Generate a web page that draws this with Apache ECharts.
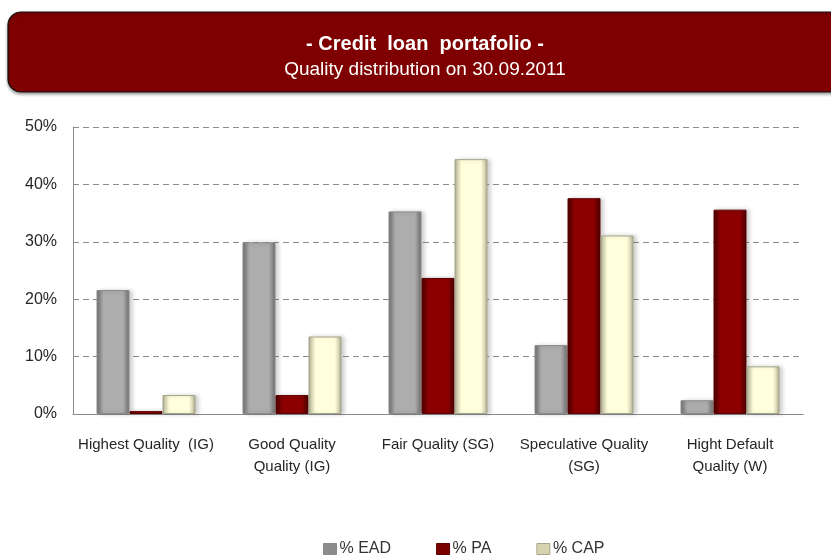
<!DOCTYPE html>
<html>
<head>
<meta charset="utf-8">
<script src="https://cdn.jsdelivr.net/npm/echarts@6/dist/echarts.min.js"></script>
<style>
  html, body { margin: 0; padding: 0; background: #fff; }
  #chart { width: 831px; height: 555px; }
</style>
</head>
<body>
<div id="chart"></div>
<script>
// Quality buckets of the credit loan portfolio
const categories = [
  'Highest Quality  (IG)',
  'Good Quality\nQuality (IG)',
  'Fair Quality (SG)',
  'Speculative Quality\n(SG)',
  'Hight Default\nQuality (W)'
];
const seriesNames = ['% EAD', '% PA', '% CAP'];
const eadValues = [21.6, 29.9, 35.3, 12.0, 2.4];
const paValues  = [0.5, 3.3, 23.7, 37.6, 35.6];
const capValues = [3.3, 13.5, 44.4, 31.1, 8.3];
const yTicks = [0, 10, 20, 30, 40, 50];

const FONT = "'Liberation Sans', 'DejaVu Sans', sans-serif";

// Bevelled look: dark edges, lighter body
function bevel(edge, mid, body) {
  return new echarts.graphic.LinearGradient(0, 0, 1, 0, [
    { offset: 0, color: edge },
    { offset: 0.1, color: mid },
    { offset: 0.2, color: body },
    { offset: 0.8, color: body },
    { offset: 0.9, color: mid },
    { offset: 1, color: edge }
  ]);
}

const palette = [
  { fill: bevel('#6a6a6a', '#8c8c8c', '#adadad'), border: '#8a8a8a', icon: '#8c8c8c' },
  { fill: bevel('#460000', '#680000', '#8c0000'), border: '#5c0000', icon: '#7a0000' },
  { fill: bevel('#a6a68a', '#dcdaba', '#ffffdc'), border: '#a6a68c', icon: '#d6d4b0' }
];

const dataSets = [eadValues, paValues, capValues];

const series = seriesNames.map((name, i) => ({
  name: name,
  type: 'bar',
  data: dataSets[i],
  barWidth: 33,
  barGap: '0%',
  itemStyle: {
    color: palette[i].fill,
    borderColor: palette[i].border,
    borderWidth: 1,
    shadowColor: 'rgba(0,0,0,0.18)',
    shadowBlur: 4,
    shadowOffsetX: 3,
    shadowOffsetY: 0
  },
  emphasis: { disabled: true }
}));

const chart = echarts.init(document.getElementById('chart'), null, { renderer: 'canvas' });

chart.setOption({
  backgroundColor: '#ffffff',
  animation: false,
  textStyle: { fontFamily: FONT },
  graphic: [
    {
      type: 'rect',
      z: 10,
      shape: { x: 8, y: 12, width: 860, height: 80, r: 13 },
      style: {
        fill: '#7f0000',
        stroke: '#111111',
        lineWidth: 1.2,
        shadowColor: 'rgba(0,0,0,0.35)',
        shadowBlur: 3,
        shadowOffsetY: 2
      }
    },
    {
      type: 'text',
      z: 11,
      x: 425,
      y: 44,
      style: {
        text: '- Credit  loan  portafolio -',
        fill: '#ffffff',
        font: 'bold 20px ' + FONT,
        align: 'center',
        verticalAlign: 'middle'
      }
    },
    {
      type: 'text',
      z: 11,
      x: 425,
      y: 70,
      style: {
        text: 'Quality distribution on 30.09.2011',
        fill: '#ffffff',
        font: '19px ' + FONT,
        align: 'center',
        verticalAlign: 'middle'
      }
    }
  ],
  legend: {
    data: seriesNames.map((n, i) => ({
      name: n,
      itemStyle: { color: palette[i].icon, borderColor: palette[i].border, borderWidth: 1 }
    })),
    left: 318,
    top: 536,
    icon: 'rect',
    itemWidth: 13,
    itemHeight: 11,
    itemGap: 45,
    textStyle: { fontSize: 16, color: '#333333', fontFamily: FONT, padding: [0, 0, 0, -2] },
    selectedMode: false
  },
  grid: { left: 73, right: 28, top: 127, bottom: 141, containLabel: false },
  xAxis: {
    type: 'category',
    data: categories,
    axisLine: { show: true, lineStyle: { color: '#8a8a8a', width: 1 } },
    axisTick: { show: false },
    axisLabel: {
      color: '#262626',
      fontSize: 15,
      fontFamily: FONT,
      lineHeight: 22,
      margin: 20,
      interval: 0
    }
  },
  yAxis: {
    type: 'value',
    min: yTicks[0],
    max: yTicks[yTicks.length - 1],
    interval: 10,
    axisLine: { show: true, lineStyle: { color: '#8a8a8a', width: 1 } },
    axisTick: { show: false },
    axisLabel: {
      formatter: v => v + '%',
      color: '#262626',
      fontSize: 16,
      fontFamily: FONT,
      margin: 16
    },
    splitLine: {
      show: true,
      lineStyle: { color: '#8c8c8c', type: [6, 4], width: 1 }
    }
  },
  series: series
});
</script>
</body>
</html>
